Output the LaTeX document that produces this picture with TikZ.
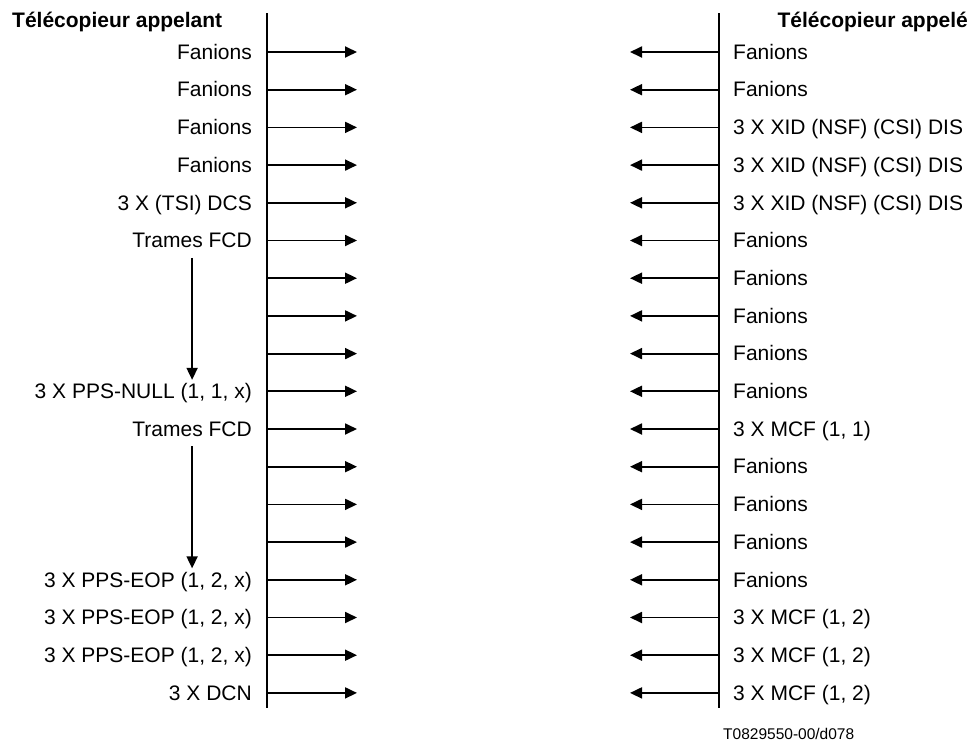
\documentclass[tikz,border=0pt]{standalone}
\usepackage{fontspec}
\setmainfont{Liberation Sans}
\usetikzlibrary{arrows.meta,positioning}

\begin{document}
\begin{tikzpicture}[
  x=1pt,y=-1pt,
  >={Triangle[length=12pt,width=11pt]},
  every node/.style={font=\fontsize{21}{25}\selectfont,inner sep=0pt,
    text height=14.5pt,text depth=0pt},
  title/.style={font=\fontsize{21}{25}\selectfont\bfseries},
  arrow/.style={->,line width=1.8pt},
  lifeline/.style={line width=1.8pt}
]
  \useasboundingbox (0,0) rectangle (978,742);
  % the two stations
  \node[title,anchor=west] (caller) at (12,20) {Télécopieur appelant};
  \node[title,anchor=east] (callee) at (968,20) {Télécopieur appelé};
  \coordinate (ltop) at (267,13);
  \coordinate (lbot) at (267,708);
  \coordinate (rtop) at (719,13);
  \coordinate (rbot) at (719,708);
  \draw[lifeline] (ltop) -- (lbot);
  \draw[lifeline] (rtop) -- (rbot);
  % one row of frames every 37.7px
  \foreach \i in {0,...,17} {
    \coordinate (l\i) at (267,52+37.7*\i);
    \coordinate (lt\i) at (357,52+37.7*\i);
    \coordinate (r\i) at (719,52+37.7*\i);
    \coordinate (rt\i) at (630,52+37.7*\i);
    \draw[arrow] (l\i) -- (lt\i);
    \draw[arrow] (r\i) -- (rt\i);
  }
  % frames sent by the calling side
  \foreach \i/\t in {0/Fanions,1/Fanions,2/Fanions,3/Fanions,4/{3 X (TSI) DCS},
      5/Trames FCD,9/{3 X PPS-NULL (1, 1, x)},10/Trames FCD,
      14/{3 X PPS-EOP (1, 2, x)},15/{3 X PPS-EOP (1, 2, x)},
      16/{3 X PPS-EOP (1, 2, x)},17/3 X DCN}
    \node[left=15pt of l\i] (ln\i) {\t};
  % frames sent by the called side
  \foreach \i/\t in {0/Fanions,1/Fanions,2/{3 X XID (NSF) (CSI) DIS},
      3/{3 X XID (NSF) (CSI) DIS},4/{3 X XID (NSF) (CSI) DIS},5/Fanions,
      6/Fanions,7/Fanions,8/Fanions,9/Fanions,10/{3 X MCF (1, 1)},
      11/Fanions,12/Fanions,13/Fanions,14/Fanions,15/{3 X MCF (1, 2)},
      16/{3 X MCF (1, 2)},17/{3 X MCF (1, 2)}}
    \node[right=14pt of r\i] (rn\i) {\t};
  % runs of FCD frames
  \draw[arrow] ([yshift=-10pt]ln5.south) -- ([yshift=4pt]ln5.south |- ln9.north);
  \draw[arrow] ([yshift=-10pt]ln10.south) -- ([yshift=4pt]ln10.south |- ln14.north);
  \node[font=\fontsize{15.5}{18}\selectfont,anchor=west] (ref) at (723,732) {T0829550-00/d078};
\end{tikzpicture}
\end{document}
